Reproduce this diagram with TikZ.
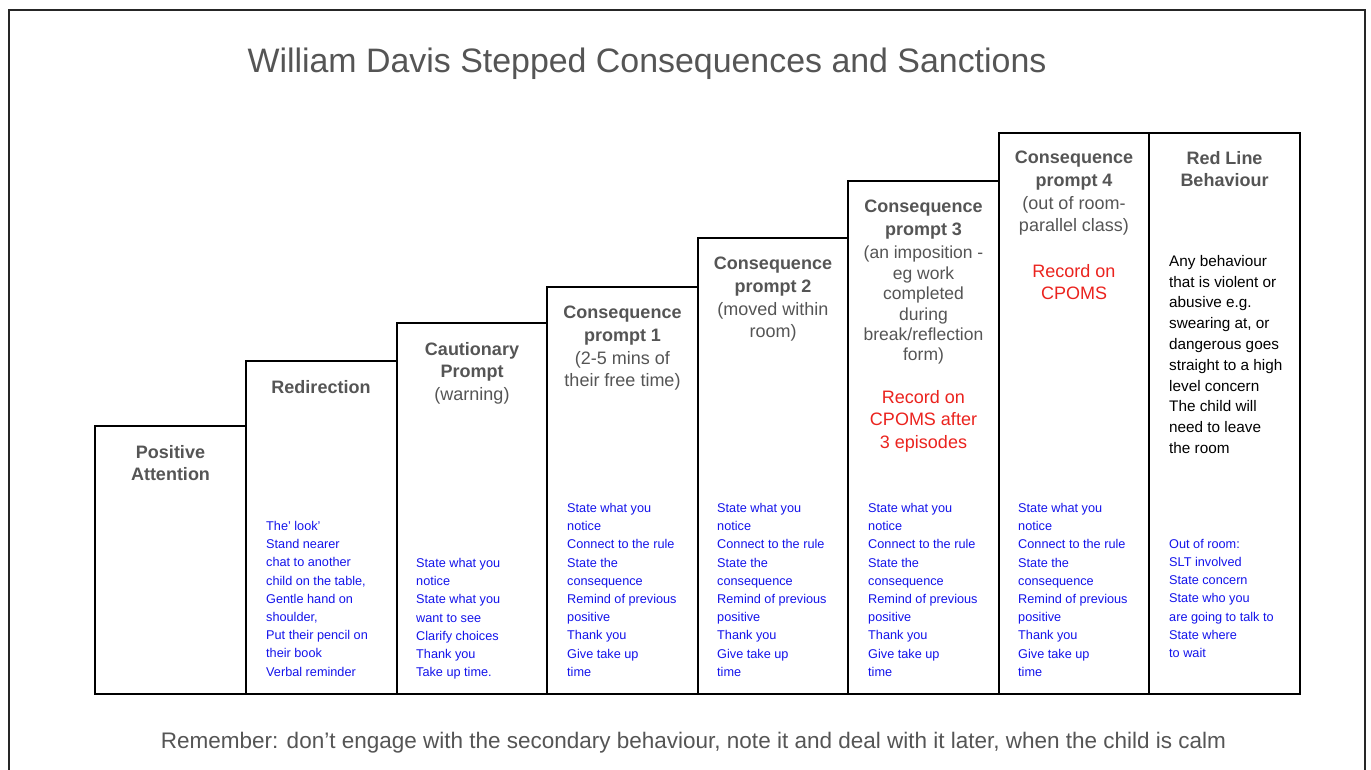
\documentclass[tikz,border=0pt]{standalone}
\usepackage{fontspec}
\setmainfont{Liberation Sans}
\definecolor{hdgray}{RGB}{85,85,85}
\definecolor{txblue}{RGB}{20,20,235}
\definecolor{txred}{RGB}{235,35,30}
\begin{document}
\begin{tikzpicture}[x=1pt,y=-1pt,
  stepline/.style={line width=2.8pt, black, line join=miter},
  frameline/.style={line width=2.2pt, black!85},
  titletext/.style={text=hdgray, font=\fontsize{33.9}{38}\selectfont, inner sep=0},
  head/.style={text=hdgray, align=center, inner sep=0, anchor=north, font=\fontsize{18}{22.7}\selectfont},
  bluelist/.style={text=txblue, align=left, inner sep=0, anchor=north west, font=\fontsize{12.7}{18.2}\selectfont},
  redtext/.style={text=txred, align=center, inner sep=0, anchor=north, font=\fontsize{18}{22.5}\selectfont},
  blacktext/.style={text=black, align=left, inner sep=0, anchor=north west, font=\fontsize{15.3}{20.8}\selectfont},
  notetext/.style={text=hdgray, font=\fontsize{22.5}{26}\selectfont, inner sep=0}]
\useasboundingbox[fill=white] (0,0) rectangle (1371,770);
\draw[frameline] (9,775) -- (9,10) -- (1365,10) -- (1365,775);

\node[titletext] (title) at (647,63.5) {William Davis Stepped Consequences and Sanctions};

% step boxes
\draw[stepline] (95,426) rectangle (246,694);
\draw[stepline] (246,361) rectangle (397,694);
\draw[stepline] (397,323) rectangle (547,694);
\draw[stepline] (547,287) rectangle (698,694);
\draw[stepline] (698,238) rectangle (848,694);
\draw[stepline] (848,181) rectangle (999,694);
\draw[stepline] (999,133) rectangle (1149,694);
\draw[stepline] (1149,133) rectangle (1300,694);

% headers
\node[head] (h1) at (170.5,445) {\textbf{Positive}\\\textbf{Attention}};
\node[head] (h2) at (321,380) {\textbf{Redirection}};
\node[head] (h3) at (472,342) {\textbf{Cautionary}\\\textbf{Prompt}\\(warning)};
\node[head] (h4) at (622.5,306) {\textbf{Consequence}\\\textbf{prompt 1}\\(2-5 mins of\\their free time)};
\node[head] (h5) at (773,257) {\textbf{Consequence}\\\textbf{prompt 2}\\(moved within\\room)};
\node[head] (h6) at (923.5,200) {\textbf{Consequence}\\\textbf{prompt 3}};
\node[head, font=\fontsize{17.5}{20.4}\selectfont] (h6b) at (923.5,246) {(an imposition -\\eg work\\completed\\during\\break/reflection\\form)};
\node[head] (h7) at (1074,151) {\textbf{Consequence}\\\textbf{prompt 4}\\(out of room-\\parallel class)};
\node[head] (h8) at (1224.5,151) {\textbf{Red Line}\\\textbf{Behaviour}};

% red notes
\node[redtext] (r6) at (923.5,390) {Record on\\CPOMS after\\3 episodes};
\node[redtext] (r7) at (1074,264) {Record on\\CPOMS};

% black text
\node[blacktext] (k8) at (1169,255) {Any behaviour\\that is violent or\\abusive e.g.\\swearing at, or\\dangerous goes\\straight to a high\\level concern\\The child will\\need to leave\\the room};

% blue lists
\node[bluelist] (b2) at (266,521) {The’ look’\\Stand nearer\\chat to another\\child on the table,\\Gentle hand on\\shoulder,\\Put their pencil on\\their book\\Verbal reminder};
\node[bluelist] (b3) at (416,558) {State what you\\notice\\State what you\\want to see\\Clarify choices\\Thank you\\Take up time.};
\node[bluelist] (b4) at (567,503) {State what you\\notice\\Connect to the rule\\State the\\consequence\\Remind of previous\\positive\\Thank you\\Give take up\\time};
\node[bluelist] (b5) at (717,503) {State what you\\notice\\Connect to the rule\\State the\\consequence\\Remind of previous\\positive\\Thank you\\Give take up\\time};
\node[bluelist] (b6) at (868,503) {State what you\\notice\\Connect to the rule\\State the\\consequence\\Remind of previous\\positive\\Thank you\\Give take up\\time};
\node[bluelist] (b7) at (1018,503) {State what you\\notice\\Connect to the rule\\State the\\consequence\\Remind of previous\\positive\\Thank you\\Give take up\\time};
\node[bluelist] (b8) at (1169,539) {Out of room:\\SLT involved\\State concern\\State who you\\are going to talk to\\State where\\to wait};

\node[notetext] (note) at (693.5,742.5) {Remember: don’t engage with the secondary behaviour, note it and deal with it later, when the child is calm};
\end{tikzpicture}
\end{document}
